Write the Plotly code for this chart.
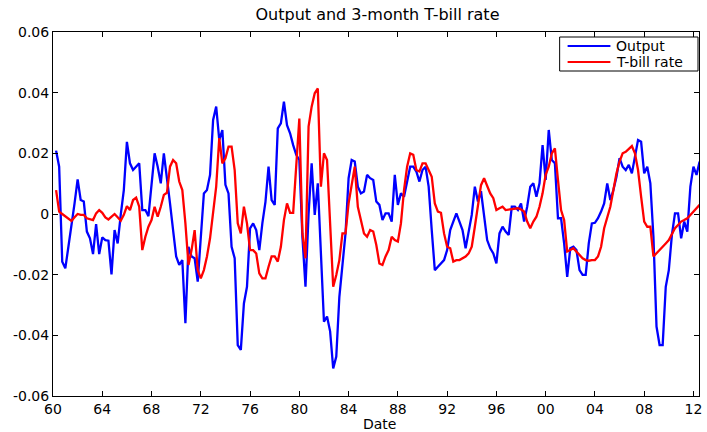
import plotly.graph_objects as go

# Quarterly cyclical components, 1960Q2 onward
first_quarter = 1960.25
output_gap = [
    0.0209, 0.0156, -0.0157, -0.0179, -0.0108, -0.0042, 0.0035, 0.0114, 0.0046, 0.0041,
    -0.0058, -0.0080, -0.0132, -0.0033, -0.0132, -0.0077, -0.0086, -0.0088, -0.0199, -0.0053,
    -0.0097, -0.0003, 0.0079, 0.0238, 0.0167, 0.0145, 0.0156, 0.0167, 0.0013, 0.0013,
    -0.0007, 0.0090, 0.0200, 0.0156, 0.0101, 0.0200, 0.0123, 0.0035, -0.0053, -0.0140,
    -0.0168, -0.0152, -0.0360, -0.0108, -0.0140, -0.0146, -0.0223, -0.0075, 0.0068, 0.0079,
    0.0129, 0.0310, 0.0354, 0.0244, 0.0277, 0.0096, 0.0068, -0.0108, -0.0146, -0.0432,
    -0.0448, -0.0295, -0.0240, -0.0047, -0.0031, -0.0053, -0.0119, -0.0030, 0.0040, 0.0156,
    0.0046, 0.0030, 0.0282, 0.0299, 0.0370, 0.0293, 0.0266, 0.0227, 0.0195, 0.0178,
    -0.0075, -0.0240, 0.0000, 0.0167, -0.0003, 0.0101, -0.0120, -0.0355, -0.0338, -0.0387,
    -0.0509, -0.0470, -0.0273, -0.0163, -0.0064, 0.0118, 0.0178, 0.0173, 0.0090, 0.0068,
    0.0074, 0.0129, 0.0118, 0.0112, 0.0041, 0.0030, -0.0020, 0.0002, 0.0002, -0.0025,
    0.0129, 0.0030, 0.0068, 0.0057, 0.0112, 0.0156, 0.0156, 0.0140, 0.0107, 0.0145,
    0.0156, 0.0090, -0.0053, -0.0185, -0.0174, -0.0163, -0.0152, -0.0119, -0.0053, -0.0025,
    0.0002, -0.0025, -0.0053, -0.0113, -0.0053, -0.0003, 0.0090, 0.0041, 0.0075, -0.0009,
    -0.0086, -0.0113, -0.0130, -0.0163, -0.0064, -0.0042, -0.0058, -0.0069, 0.0024, 0.0024,
    0.0013, 0.0035, -0.0025, 0.0024, 0.0090, 0.0101, 0.0057, 0.0101, 0.0227, 0.0112,
    0.0277, 0.0178, 0.0167, -0.0014, -0.0014, -0.0097, -0.0207, -0.0113, -0.0108, -0.0119,
    -0.0185, -0.0201, -0.0201, -0.0097, -0.0031, -0.0029, -0.0014, 0.0008, 0.0035, 0.0101,
    0.0046, 0.0079, 0.0123, 0.0184, 0.0156, 0.0145, 0.0162, 0.0134, 0.0184, 0.0244,
    0.0238, 0.0134, 0.0156, 0.0101, -0.0075, -0.0371, -0.0432, -0.0432, -0.0240, -0.0185,
    -0.0069, 0.0002, 0.0002, -0.0080, -0.0025, -0.0058, 0.0090, 0.0156, 0.0129, 0.0173,
]
tbill_rate = [
    0.0079, 0.0008, 0.0000, -0.0007, -0.0014, -0.0023, -0.0011, 0.0000, -0.0003, -0.0003,
    -0.0014, -0.0018, -0.0020, 0.0002, 0.0013, 0.0004, -0.0011, -0.0018, -0.0009, 0.0000,
    -0.0011, -0.0022, -0.0003, 0.0026, 0.0013, 0.0046, 0.0054, 0.0024, -0.0119, -0.0075,
    -0.0042, -0.0020, 0.0024, -0.0009, 0.0024, 0.0063, 0.0070, 0.0156, 0.0178, 0.0167,
    0.0107, 0.0079, -0.0031, -0.0168, -0.0119, -0.0053, -0.0185, -0.0212, -0.0185, -0.0140,
    -0.0080, 0.0002, 0.0090, 0.0250, 0.0167, 0.0184, 0.0222, 0.0222, 0.0145, -0.0031,
    -0.0064, 0.0024, -0.0031, -0.0119, -0.0119, -0.0130, -0.0196, -0.0212, -0.0212, -0.0174,
    -0.0140, -0.0140, -0.0157, -0.0108, -0.0020, 0.0035, 0.0004, 0.0004, 0.0178, 0.0315,
    -0.0064, -0.0146, 0.0288, 0.0354, 0.0398, 0.0414, 0.0090, 0.0200, 0.0178, -0.0009,
    -0.0240, -0.0201, -0.0152, -0.0064, -0.0064, 0.0035, 0.0090, 0.0156, 0.0024, -0.0020,
    -0.0064, -0.0075, -0.0053, -0.0058, -0.0102, -0.0163, -0.0168, -0.0140, -0.0119, -0.0075,
    -0.0086, -0.0091, -0.0031, 0.0079, 0.0156, 0.0200, 0.0195, 0.0145, 0.0140, 0.0167,
    0.0167, 0.0145, 0.0123, 0.0035, 0.0008, 0.0004, -0.0064, -0.0108, -0.0113, -0.0157,
    -0.0152, -0.0152, -0.0146, -0.0140, -0.0130, -0.0108, -0.0042, 0.0030, 0.0095, 0.0118,
    0.0090, 0.0068, 0.0052, 0.0013, 0.0019, 0.0024, 0.0013, 0.0015, 0.0015, 0.0019,
    0.0019, 0.0015, 0.0008, -0.0025, -0.0047, -0.0025, -0.0009, 0.0024, 0.0068, 0.0129,
    0.0156, 0.0200, 0.0216, 0.0112, 0.0013, -0.0020, -0.0124, -0.0119, -0.0113, -0.0124,
    -0.0135, -0.0146, -0.0152, -0.0154, -0.0152, -0.0152, -0.0140, -0.0108, -0.0047, -0.0009,
    0.0024, 0.0079, 0.0134, 0.0173, 0.0200, 0.0205, 0.0216, 0.0224, 0.0200, 0.0145,
    0.0057, -0.0025, -0.0042, -0.0042, -0.0140, -0.0130, -0.0119, -0.0108, -0.0097, -0.0086,
    -0.0064, -0.0047, -0.0036, -0.0025, -0.0020, -0.0014, -0.0003, 0.0008, 0.0019, 0.0030,
]
dates = [first_quarter + 0.25 * k for k in range(len(output_gap))]

series_names = ["Output", "T-bill rate"]
series_colors = ["#0000ff", "#ff0000"]

year_ticks = list(range(1960, 2013, 4))
year_labels = [f"{y % 100:02d}" for y in year_ticks]
y_ticks = [0.06, 0.04, 0.02, 0, -0.02, -0.04, -0.06]
y_labels = ["0.06", "0.04", "0.02", "0", "-0.02", "-0.04", "-0.06"]

font_family = "DejaVu Sans, Verdana, sans-serif"
W, H = 707, 432
L, R, T, B = 53, 5, 32, 36
plot_w, plot_h = W - L - R, H - T - B


def px_x(p):
    """Pixel column -> paper x."""
    return (p - L) / plot_w


def px_y(p):
    """Pixel row -> paper y."""
    return 1 - (p - T) / plot_h


fig = go.Figure()
for name, color, values in zip(series_names, series_colors, [output_gap, tbill_rate]):
    fig.add_trace(go.Scatter(x=dates, y=values, mode="lines", name=name,
                             line=dict(color=color, width=2.3), showlegend=False))

axis_common = dict(showline=True, linecolor="black", linewidth=1, mirror="allticks",
                   ticks="inside", ticklen=5, tickcolor="black", showgrid=False,
                   zeroline=False, tickfont=dict(family=font_family, size=14, color="black"))

# Boxed legend in the upper right corner of the axes
shapes = [dict(type="rect", xref="paper", yref="paper",
               x0=px_x(562), x1=px_x(701), y0=px_y(71), y1=px_y(37),
               line=dict(color="black", width=1), fillcolor="white", layer="above")]
annotations = []
for k, (name, color) in enumerate(zip(series_names, series_colors)):
    row = 46 + 16 * k
    shapes.append(dict(type="line", xref="paper", yref="paper",
                       x0=px_x(570), x1=px_x(613), y0=px_y(row), y1=px_y(row),
                       line=dict(color=color, width=2.2), layer="above"))
    annotations.append(dict(text=name, xref="paper", yref="paper", x=px_x(618), y=px_y(row),
                            xanchor="left", yanchor="middle", showarrow=False, borderpad=0,
                            font=dict(family=font_family, size=14, color="black")))

# x-axis caption
annotations.append(dict(text="Date", xref="paper", yref="paper", x=px_x(381), y=px_y(424),
                        xanchor="center", yanchor="middle", showarrow=False, borderpad=0,
                        font=dict(family=font_family, size=14, color="black")))

fig.update_layout(
    width=W, height=H,
    margin=dict(l=L, r=R, t=T, b=B),
    paper_bgcolor="white", plot_bgcolor="white",
    font=dict(family=font_family, size=14, color="black"),
    title=dict(text="Output and 3-month T-bill rate", x=(L + 702) / 2 / W, xanchor="center",
               y=1 - 14 / H, yanchor="middle", font=dict(size=16, color="black")),
    xaxis=dict(range=[1960, 2012.45], tickvals=year_ticks, ticktext=year_labels,
               **axis_common),
    yaxis=dict(range=[-0.06, 0.06], tickvals=y_ticks, ticktext=y_labels, **axis_common),
    shapes=shapes,
    annotations=annotations,
    showlegend=False,
)

fig.write_html("out.html")
